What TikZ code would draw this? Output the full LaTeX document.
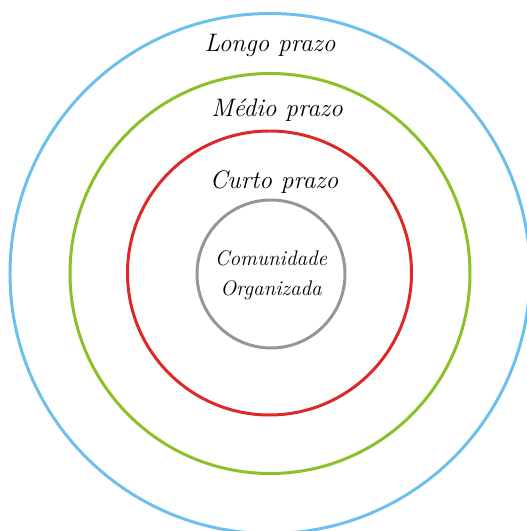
\documentclass[tikz,border=0pt]{standalone}
\usetikzlibrary{positioning}

\definecolor{longoblue}{RGB}{110,192,236}
\definecolor{mediogreen}{RGB}{140,192,40}
\definecolor{curtored}{RGB}{222,40,40}
\definecolor{comgray}{RGB}{150,150,150}

\tikzset{
  ring/.style={line width=1.7pt},
  rotulo/.style={font=\Large\itshape}
}

\begin{document}
\begin{tikzpicture}
\useasboundingbox (0,0) rectangle (10.54,10.62);

% aneis
\draw[ring, longoblue] (5.40,5.15) circle (5.20);
\draw[ring, mediogreen] (5.40,5.15) circle (4.00);
\draw[ring, curtored] (5.39,5.16) circle (2.84);
\draw[ring, comgray] (5.42,5.14) circle (1.48);

% rotulos
\node[rotulo] (longo) at (5.40,9.72) {Longo prazo};
\node[rotulo] (medio) at (5.54,8.42) {Médio prazo};
\node[rotulo] (curto) at (5.48,6.98) {Curto prazo};

\node[font=\large\itshape] (comunidade) at (5.42,5.46) {Comunidade};
\node[font=\large\itshape, below=0.05 of comunidade] (organizada) {Organizada};

\end{tikzpicture}
\end{document}
